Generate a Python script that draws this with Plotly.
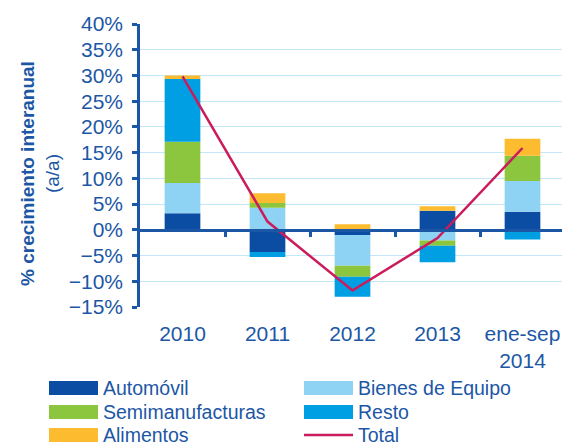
import plotly.graph_objects as go

# datos (% crecimiento interanual)
categorias = ["2010", "2011", "2012", "2013", "ene-sep<br>2014"]
automovil = [3.2, -4.3, -1.0, 3.7, 3.5]
bienes_equipo = [5.9, 4.3, -6.0, -2.1, 6.0]
semimanufacturas = [8.0, 0.9, -2.1, -1.0, 4.9]
resto = [12.2, -1.0, -3.9, -3.2, -1.9]
alimentos = [0.7, 1.9, 1.1, 0.9, 3.3]
total = [29.8, 1.6, -11.8, -1.6, 15.9]

azul_texto = "#1C57A5"
series = [
    ("Automóvil", automovil, "#0B4DA2"),
    ("Bienes de Equipo", bienes_equipo, "#8ED3F4"),
    ("Semimanufacturas", semimanufacturas, "#8CC63F"),
    ("Resto", resto, "#009FE3"),
    ("Alimentos", alimentos, "#FDBB2F"),
]
color_total = "#CC1B5C"

fig = go.Figure()
for nombre, valores, color in series:
    fig.add_trace(go.Bar(x=categorias, y=valores, name=nombre,
                         marker_color=color, marker_line_width=0))
fig.add_trace(go.Scatter(x=categorias, y=total, name="Total", mode="lines",
                         line=dict(color=color_total, width=2.5)))

# eje auxiliar para la linea del cero con marcas entre categorias
fig.add_trace(go.Scatter(x=[0, 4], y=[None, None], xaxis="x2", showlegend=False,
                         hoverinfo="skip"))

# la pagina tiene 8px de margen en el body
OFF = 8
W, H = 570 - OFF, 446 - OFF
L, R, T, B = 140 - OFF, 5, 24 - OFF, 139
pw, ph = W - L - R, H - T - B


def px_x(p):
    return (p - OFF - L) / pw


def px_y(p):
    return (H - B - (p - OFF)) / ph


fig.update_layout(
    width=W, height=H,
    margin=dict(l=L, r=R, t=T, b=B),
    paper_bgcolor="white", plot_bgcolor="white",
    barmode="relative", bargap=0.58,
    showlegend=False,
    font=dict(family="Liberation Sans, Arial", size=21, color=azul_texto),
    xaxis=dict(showline=False, showgrid=False, ticks="", ticklabelstandoff=12,
               tickfont=dict(size=21)),
    xaxis2=dict(overlaying="x", anchor="free", position=15 / 55,
                range=[-0.5, 4.5], showgrid=False, zeroline=False,
                showline=True, linecolor=azul_texto, linewidth=2.5,
                ticks="outside", tickvals=[0.5, 1.5, 2.5, 3.5, 4.5],
                ticklen=5, tickwidth=2.5, tickcolor=azul_texto,
                showticklabels=False),
    yaxis=dict(range=[-15, 40], dtick=5, ticksuffix="%",
               showgrid=True, gridcolor="#C3E7F8", gridwidth=1,
               zeroline=False, showline=True, linecolor=azul_texto,
               linewidth=2.5, ticks="outside", ticklen=5, tickwidth=2.5,
               tickcolor=azul_texto, ticklabelstandoff=5,
               tickfont=dict(size=21)),
)

fig.add_annotation(
    text="<b>% crecimiento interanual</b><br>(a/a)",
    xref="paper", yref="paper", x=px_x(40), y=px_y(174),
    xanchor="center", yanchor="middle", textangle=-90, showarrow=False,
    font=dict(size=19, color=azul_texto),
)

# leyenda dibujada a mano (2 columnas)
entradas = [(n, c) for n, _, c in series] + [("Total", color_total)]
cols_x = [49, 304]
filas_y = [388, 412, 435]
for i, (nombre, color) in enumerate(entradas):
    x0 = cols_x[i % 2]
    yc = filas_y[i // 2]
    if nombre == "Total":
        fig.add_shape(type="line", xref="paper", yref="paper",
                      x0=px_x(x0), x1=px_x(x0 + 49), y0=px_y(yc), y1=px_y(yc),
                      line=dict(color=color, width=2.5))
    else:
        fig.add_shape(type="rect", xref="paper", yref="paper",
                      x0=px_x(x0), x1=px_x(x0 + 49),
                      y0=px_y(yc - 7), y1=px_y(yc + 7),
                      fillcolor=color, line_width=0)
    fig.add_annotation(text=nombre, xref="paper", yref="paper",
                       x=px_x(x0 + 52), y=px_y(yc), xanchor="left",
                       yanchor="middle", showarrow=False,
                       font=dict(size=19.5, color=azul_texto))

fig.write_html("out.html")
